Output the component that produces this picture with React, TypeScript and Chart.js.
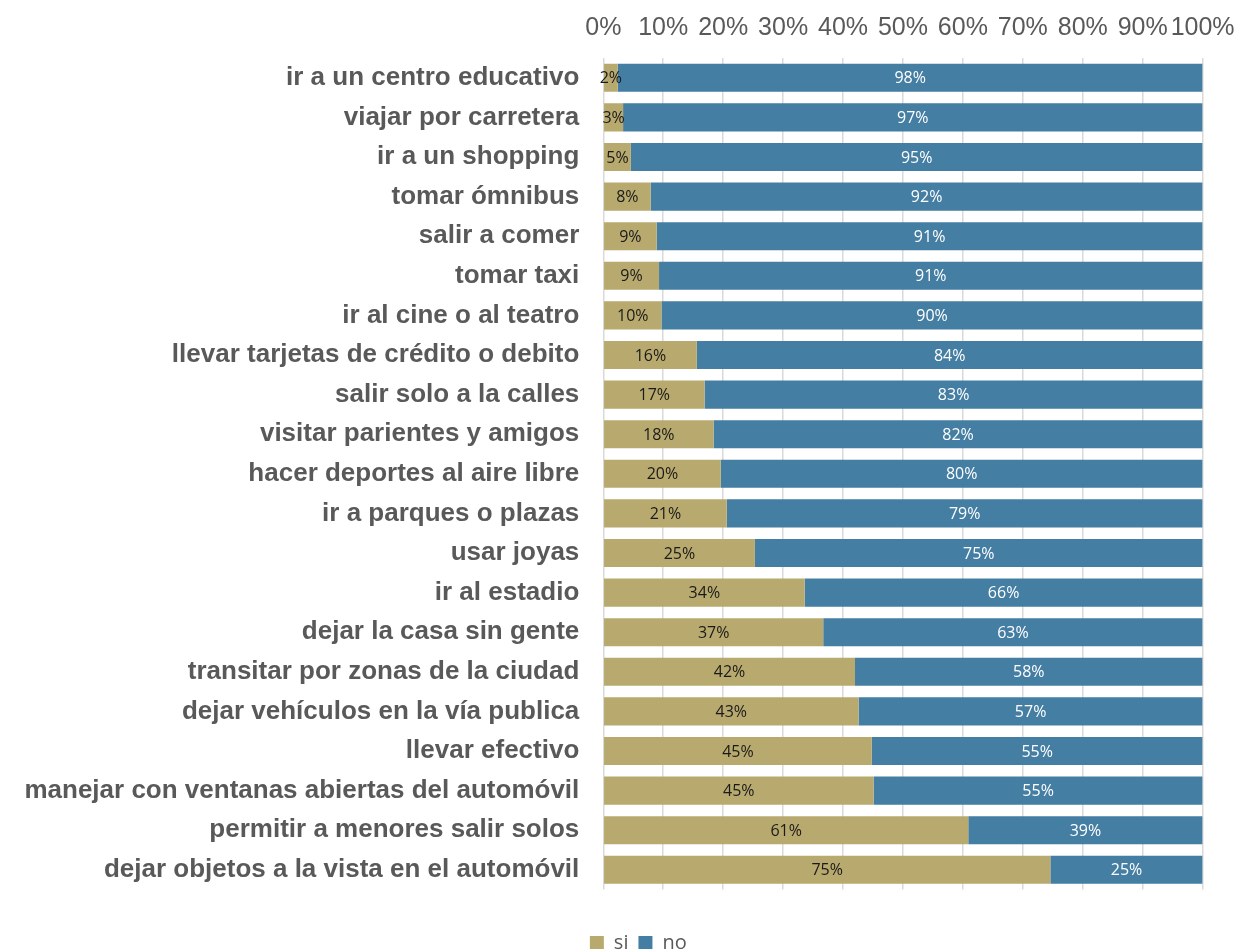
import React, { useEffect, useRef } from "react";
import { Chart, registerables } from "chart.js";

Chart.register(...registerables);

const categories: string[] = [
  "ir a un centro educativo",
  "viajar por carretera",
  "ir a un shopping",
  "tomar ómnibus",
  "salir a comer",
  "tomar taxi",
  "ir al cine o al teatro",
  "llevar tarjetas de crédito o debito",
  "salir solo a la calles",
  "visitar parientes y amigos",
  "hacer deportes al aire libre",
  "ir a parques o plazas",
  "usar joyas",
  "ir al estadio",
  "dejar la casa sin gente",
  "transitar por zonas de la ciudad",
  "dejar vehículos en la vía publica",
  "llevar efectivo",
  "manejar con ventanas abiertas del automóvil",
  "permitir a menores salir solos",
  "dejar objetos a la vista en el automóvil",
];

const siValues: number[] = [
  2.4, 3.3, 4.6, 7.9, 8.9, 9.3, 9.7, 15.6, 16.9, 18.4, 19.6, 20.6, 25.3, 33.6,
  36.7, 42.0, 42.6, 44.8, 45.1, 60.9, 74.6,
];

const noValues: number[] = [
  97.6, 96.7, 95.4, 92.1, 91.1, 90.7, 90.3, 84.4, 83.1, 81.6, 80.4, 79.4, 74.7,
  66.4, 63.3, 58.0, 57.4, 55.2, 54.9, 39.1, 25.4,
];

const seriesNames: string[] = ["si", "no"];
const xTickValues: number[] = [0, 10, 20, 30, 40, 50, 60, 70, 80, 90, 100];

const SI_COLOR = "#B8AA6E";
const NO_COLOR = "#457EA3";
const LABEL_COLORS = ["#1a1a1a", "#ffffff"];
const TEXT_GREY = "#595959";

const valueLabelPlugin = {
  id: "barValueLabels",
  afterDatasetsDraw(chart: any) {
    const ctx = chart.ctx;
    ctx.save();
    ctx.font = "16px 'Open Sans'";
    ctx.textAlign = "center";
    ctx.textBaseline = "middle";
    chart.data.datasets.forEach((ds: any, di: number) => {
      const meta = chart.getDatasetMeta(di);
      meta.data.forEach((el: any, i: number) => {
        const v = ds.data[i] as number;
        const p = el.getCenterPoint();
        ctx.fillStyle = LABEL_COLORS[di];
        ctx.fillText(Math.round(v) + "%", p.x, p.y + 1);
      });
    });
    ctx.restore();
  },
};

const legendShiftPlugin = {
  id: "legendShift",
  afterLayout(chart: any) {
    if (chart.legend) {
      chart.legend.left += 37;
      chart.legend.right += 37;
    }
  },
};

export default function App() {
  const canvasRef = useRef<HTMLCanvasElement | null>(null);

  useEffect(() => {
    if (!canvasRef.current) return;
    const chart = new Chart(canvasRef.current, {
      type: "bar",
      data: {
        labels: categories,
        datasets: [
          {
            label: seriesNames[0],
            data: siValues,
            backgroundColor: SI_COLOR,
            borderWidth: 0,
            categoryPercentage: 1,
            barPercentage: 0.71,
          },
          {
            label: seriesNames[1],
            data: noValues,
            backgroundColor: NO_COLOR,
            borderWidth: 0,
            categoryPercentage: 1,
            barPercentage: 0.71,
          },
        ],
      },
      options: {
        indexAxis: "y",
        responsive: false,
        animation: false,
        devicePixelRatio: 1,
        layout: { padding: { top: 0, left: 0, right: 36.4, bottom: -14 } },
        plugins: {
          tooltip: { enabled: false },
          legend: {
            position: "bottom",
            labels: {
              boxWidth: 14,
              boxHeight: 14,
              padding: 10,
              color: TEXT_GREY,
              font: { family: "'Open Sans'", size: 20 },
            },
          },
        },
        scales: {
          x: {
            type: "linear",
            position: "top",
            stacked: true,
            min: 0,
            max: 100,
            afterBuildTicks: (scale: any) => {
              scale.ticks = xTickValues.map((v) => ({ value: v }));
            },
            afterFit: (scale: any) => {
              scale.height = 58;
              scale.paddingLeft = 0;
              scale.paddingRight = 0;
            },
            ticks: {
              autoSkip: false,
              maxRotation: 0,
              padding: 15,
              color: TEXT_GREY,
              font: { family: "'Liberation Sans', Arial, sans-serif", size: 25 },
              callback: (v: any) => v + "%",
            },
            grid: { color: "#D9D9D9", lineWidth: 1.5, drawTicks: false },
            border: { display: false },
          },
          x2: {
            type: "linear",
            position: "bottom",
            min: 0,
            max: 100,
            ticks: { display: false },
            grid: { display: false, drawTicks: false },
            border: { display: false },
            afterFit: (scale: any) => {
              scale.height = 33.4;
              scale.paddingLeft = 0;
              scale.paddingRight = 0;
            },
          },
          y: {
            stacked: true,
            afterFit: (scale: any) => {
              scale.width = 603.3;
            },
            ticks: {
              autoSkip: false,
              padding: 24,
              color: TEXT_GREY,
              font: {
                family: "'Liberation Sans', Arial, sans-serif",
                size: 26,
                weight: "bold",
              },
            },
            grid: { display: false, drawTicks: false },
            border: { display: false },
          },
        },
      },
      plugins: [valueLabelPlugin, legendShiftPlugin],
    } as any);
    return () => chart.destroy();
  }, []);

  return (
    <div
      style={{
        position: "fixed",
        left: 0,
        top: 0,
        width: 1239,
        height: 949,
        background: "#ffffff",
        overflow: "hidden",
      }}
    >
      <canvas
        ref={canvasRef}
        width={1239}
        height={949}
        style={{ width: 1239, height: 949, display: "block" }}
      />
    </div>
  );
}
